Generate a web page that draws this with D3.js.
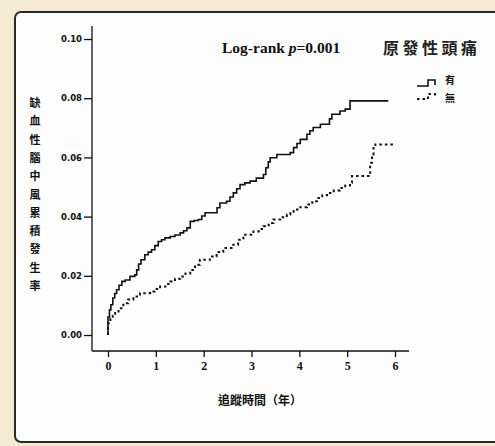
<!DOCTYPE html>
<html>
<head>
<meta charset="utf-8">
<script src="https://cdn.jsdelivr.net/npm/d3@7"></script>
<style>
  html, body { margin: 0; padding: 0; background: #fdfdfd; overflow: hidden; }
  svg { display: block; }
</style>
</head>
<body>
<div id="chart"></div>
<script>
const width = 495;
const height = 446;

// follow-up years (x) and cumulative incidence (y)
const yesTimes = [0, 0, 0.03, 0.06, 0.10, 0.14, 0.18, 0.23, 0.29, 0.36, 0.46, 0.56, 0.60, 0.64, 0.69, 0.77, 0.84, 0.91, 0.98, 1.05, 1.12, 1.19, 1.30, 1.40, 1.51, 1.58, 1.65, 1.72, 1.80, 1.89, 1.96, 2.03, 2.24, 2.28, 2.34, 2.48, 2.55, 2.62, 2.69, 2.76, 2.86, 2.97, 3.10, 3.25, 3.30, 3.35, 3.39, 3.53, 3.81, 3.88, 3.95, 4.02, 4.16, 4.22, 4.29, 4.44, 4.63, 4.68, 4.85, 4.96, 5.06, 5.86];
const yesValues = [0, 0.0061, 0.0085, 0.0102, 0.0125, 0.0140, 0.0153, 0.0168, 0.0181, 0.0186, 0.0198, 0.0203, 0.0220, 0.0240, 0.0254, 0.0271, 0.0280, 0.0288, 0.0302, 0.0316, 0.0322, 0.0328, 0.0333, 0.0338, 0.0345, 0.0352, 0.0362, 0.0384, 0.0387, 0.0390, 0.0402, 0.0413, 0.0413, 0.0430, 0.0446, 0.0452, 0.0466, 0.0480, 0.0494, 0.0508, 0.0514, 0.0520, 0.0530, 0.0542, 0.0565, 0.0585, 0.0599, 0.0610, 0.0616, 0.0633, 0.0647, 0.0661, 0.0678, 0.0690, 0.0701, 0.0712, 0.0730, 0.0746, 0.0757, 0.0763, 0.0791, 0.0791];

const noTimes = [0, 0, 0.05, 0.10, 0.15, 0.22, 0.32, 0.42, 0.53, 0.67, 0.88, 0.98, 1.09, 1.20, 1.30, 1.40, 1.51, 1.62, 1.72, 1.82, 1.92, 2.13, 2.27, 2.41, 2.62, 2.72, 2.83, 3.04, 3.15, 3.25, 3.36, 3.46, 3.60, 3.74, 3.81, 3.88, 4.02, 4.16, 4.27, 4.37, 4.48, 4.58, 4.72, 4.85, 4.96, 5.06, 5.10, 5.48, 5.52, 5.55, 5.59, 5.97];
const noValues = [0, 0.0040, 0.0055, 0.0065, 0.0074, 0.0090, 0.0107, 0.0120, 0.0130, 0.0141, 0.0147, 0.0155, 0.0164, 0.0172, 0.0181, 0.0190, 0.0198, 0.0208, 0.0220, 0.0237, 0.0254, 0.0265, 0.0280, 0.0294, 0.0305, 0.0322, 0.0339, 0.0350, 0.0358, 0.0367, 0.0378, 0.0390, 0.0398, 0.0407, 0.0416, 0.0424, 0.0432, 0.0441, 0.0452, 0.0463, 0.0472, 0.0480, 0.0488, 0.0497, 0.0505, 0.0514, 0.0537, 0.0582, 0.0610, 0.0638, 0.0644, 0.0644];

const xTicks = [0, 1, 2, 3, 4, 5, 6];
const yTicks = [0, 0.02, 0.04, 0.06, 0.08, 0.10];
const groupLabels = ["有", "無"];
const yTitle = "缺血性腦中風累積發生率";

const svg = d3.select("#chart")
  .append("svg")
  .attr("width", width)
  .attr("height", height);

// beige page behind the panel
svg.append("rect")
  .attr("width", width).attr("height", height)
  .attr("fill", "#f7ead4");

// white panel: top, left and bottom edges only, open to the right
svg.append("path")
  .attr("d", `M${width + 5},12 H21 A6,6 0 0 0 15,18 V436 A6,6 0 0 0 21,442 H${width + 5}`)
  .attr("fill", "#fdfdfd")
  .attr("stroke", "#2a2a2a")
  .attr("stroke-width", 2);

const xScale = d3.scaleLinear().domain([0, 6]).range([108, 395]);
const yScale = d3.scaleLinear().domain([0, 0.10]).range([335, 39]);

// axes
const xAxisY = 351;
const yAxisX = 92;

svg.append("line")
  .attr("x1", yAxisX).attr("x2", yAxisX)
  .attr("y1", yScale(0.1) - 13).attr("y2", xAxisY)
  .attr("stroke", "#111").attr("stroke-width", 1.3);

svg.append("line")
  .attr("x1", yAxisX).attr("x2", xScale(6) + 14)
  .attr("y1", xAxisY).attr("y2", xAxisY)
  .attr("stroke", "#111").attr("stroke-width", 1.3);

const yAxis = svg.append("g")
  .attr("transform", `translate(${yAxisX},0)`)
  .call(d3.axisLeft(yScale).tickValues(yTicks).tickFormat(d3.format(".2f")).tickSize(8).tickPadding(2));
yAxis.select(".domain").remove();
yAxis.selectAll("line").attr("stroke", "#111").attr("stroke-width", 1.3);
yAxis.selectAll("text")
  .style("font-family", "'DejaVu Sans', sans-serif")
  .style("font-size", "8.5px")
  .style("font-weight", "bold")
  .attr("fill", "#111");

const xAxis = svg.append("g")
  .attr("transform", `translate(0,${xAxisY})`)
  .call(d3.axisBottom(xScale).tickValues(xTicks).tickFormat(d3.format("d")).tickSize(6).tickPadding(4));
xAxis.select(".domain").remove();
xAxis.selectAll("line").attr("stroke", "#111").attr("stroke-width", 1.3);
xAxis.selectAll("text")
  .style("font-family", "'Liberation Serif', serif")
  .style("font-size", "12px")
  .style("font-weight", "bold")
  .attr("fill", "#111");

// curves
const line = d3.line()
  .x(d => xScale(d[0]))
  .y(d => yScale(d[1]))
  .curve(d3.curveStepAfter);

svg.append("path")
  .datum(d3.zip(yesTimes, yesValues))
  .attr("d", line)
  .attr("fill", "none")
  .attr("stroke", "#111")
  .attr("stroke-width", 1.6);

svg.append("path")
  .datum(d3.zip(noTimes, noValues))
  .attr("d", line)
  .attr("fill", "none")
  .attr("stroke", "#111")
  .attr("stroke-width", 2)
  .attr("stroke-dasharray", "2.5,3");

// annotations
const logrank = svg.append("text")
  .attr("x", 222)
  .attr("y", 53)
  .style("font-family", "'Liberation Serif', serif")
  .style("font-size", "15.5px")
  .style("font-weight", "bold")
  .attr("fill", "#111");
logrank.append("tspan").text("Log-rank ");
logrank.append("tspan").style("font-style", "italic").text("p");
logrank.append("tspan").text("=0.001");

svg.append("text")
  .attr("x", 383)
  .attr("y", 54)
  .style("font-family", "'Noto Sans CJK TC', sans-serif")
  .style("font-size", "16px")
  .style("font-weight", "bold")
  .style("letter-spacing", "3.5px")
  .attr("fill", "#222")
  .text("原發性頭痛");

// legend
const legend = svg.append("g").attr("transform", "translate(417,0)");
legend.append("path")
  .attr("d", "M0,86 H11 V80 H18 V85")
  .attr("fill", "none").attr("stroke", "#111").attr("stroke-width", 1.6);
legend.append("path")
  .attr("d", "M0,99 H11 V94 H18 V97")
  .attr("fill", "none").attr("stroke", "#111").attr("stroke-width", 2)
  .attr("stroke-dasharray", "2.5,3");

groupLabels.forEach((label, i) => {
  legend.append("text")
    .attr("x", 28)
    .attr("y", 84 + i * 18)
    .style("font-family", "'Noto Sans CJK TC', sans-serif")
    .style("font-size", "10px")
    .style("font-weight", "bold")
    .attr("fill", "#111")
    .text(label);
});

// axis titles
svg.append("text")
  .attr("x", 260)
  .attr("y", 405)
  .attr("text-anchor", "middle")
  .style("font-family", "'Noto Sans CJK TC', sans-serif")
  .style("font-size", "12px")
  .style("font-weight", "bold")
  .attr("fill", "#111")
  .text("追蹤時間（年）");

Array.from(yTitle).forEach((ch, i) => {
  svg.append("text")
    .attr("x", 35)
    .attr("y", 107 + i * 18.3)
    .attr("text-anchor", "middle")
    .style("font-family", "'Noto Sans CJK TC', sans-serif")
    .style("font-size", "11px")
    .style("font-weight", "bold")
    .attr("fill", "#111")
    .text(ch);
});
</script>
</body>
</html>
